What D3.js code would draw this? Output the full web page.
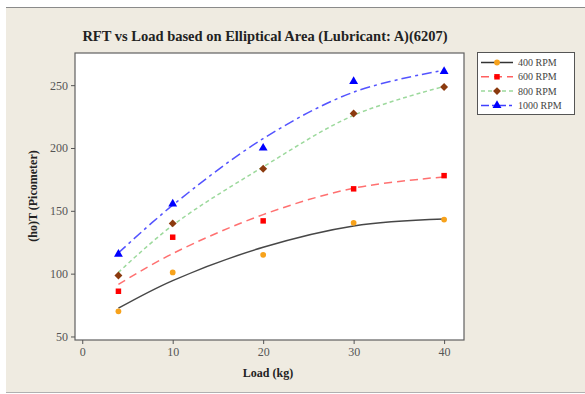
<!DOCTYPE html>
<html><head><meta charset="utf-8">
<script src="https://cdn.jsdelivr.net/npm/d3@7"></script>
<style>
html,body{margin:0;padding:0;background:#fff;}
svg{display:block;}
</style></head>
<body>
<svg id="chart" width="585" height="394"></svg>
<script>
const loads = [4, 10, 20, 30, 40];
const seriesNames = ["400 RPM", "600 RPM", "800 RPM", "1000 RPM"];
const rpm400 = [70, 101, 115, 140.5, 143];
const rpm600 = [86, 129, 142, 167.5, 178];
const rpm800 = [98.5, 140, 183.5, 227.5, 248.5];
const rpm1000 = [115.5, 155.5, 200, 253, 261];
// fitted trend lines at the same loads
const fit400 = [72.5, 94.5, 121, 138, 143.5];
const fit600 = [91.5, 116, 147, 168, 177];
const fit800 = [101, 138.5, 185, 226, 249];
const fit1000 = [116.5, 154.5, 207.5, 244.5, 262];
const xTicks = [0, 10, 20, 30, 40];
const yTicks = [50, 100, 150, 200, 250];

const svg = d3.select("#chart");
const W = 585, H = 394;
svg.append("rect").attr("x",0).attr("y",0).attr("width",W).attr("height",H).attr("fill","#ffffff");
svg.append("rect").attr("x",6).attr("y",8).attr("width",W-6).attr("height",384).attr("fill","#EFEBE1");
svg.append("line").attr("x1",6).attr("x2",W).attr("y1",7.5).attr("y2",7.5).attr("stroke","#8a8a8a").attr("stroke-width",1);
svg.append("line").attr("x1",6).attr("x2",W).attr("y1",392.5).attr("y2",392.5).attr("stroke","#b0b0b0").attr("stroke-width",1);

const pL = 75, pR = 464, pT = 53, pB = 340;
const x = d3.scaleLinear().domain([-0.8, 42.2]).range([pL, pR]);
const y = d3.scaleLinear().domain([47.2, 275.6]).range([pB, pT]);

svg.append("rect").attr("x",pL).attr("y",pT).attr("width",pR-pL).attr("height",pB-pT)
  .attr("fill","#ffffff").attr("stroke","#606060").attr("stroke-width",1.2);

const font = "'Liberation Serif', 'DejaVu Serif', serif";

// axes
const xAxis = svg.append("g").attr("transform",`translate(0,${pB})`)
  .call(d3.axisBottom(x).tickValues(xTicks).tickSize(4).tickPadding(3));
const yAxis = svg.append("g").attr("transform",`translate(${pL},0)`)
  .call(d3.axisLeft(y).tickValues(yTicks).tickSize(4).tickPadding(3));
[xAxis, yAxis].forEach(g => {
  g.select(".domain").remove();
  g.selectAll(".tick line").attr("stroke","#555");
  g.selectAll(".tick text").attr("fill","#555").style("font-family",font).style("font-size","12px");
});

svg.append("text").attr("x",265).attr("y",41).attr("text-anchor","middle")
  .style("font-family",font).style("font-weight","bold").style("font-size","14.5px").attr("fill","#222")
  .text("RFT vs Load based on Elliptical Area (Lubricant: A)(6207)");
svg.append("text").attr("x",268).attr("y",377).attr("text-anchor","middle")
  .style("font-family",font).style("font-weight","bold").style("font-size","12px").attr("fill","#222")
  .text("Load (kg)");
svg.append("text").attr("transform","translate(37,196) rotate(-90)").attr("text-anchor","middle")
  .style("font-family",font).style("font-weight","bold").style("font-size","12px").attr("fill","#222")
  .text("(ho)T (Picometer)");

const series = [
  {name: seriesNames[0], pts: rpm400, fit: fit400, line: "#333333", dash: null, mark: "#F7A21B", sym: d3.symbolCircle, size: 26, op: 0.9},
  {name: seriesNames[1], pts: rpm600, fit: fit600, line: "#FF6060", dash: "8,5", mark: "#FF0000", sym: d3.symbolSquare, size: 30, op: 0.9},
  {name: seriesNames[2], pts: rpm800, fit: fit800, line: "#9CD99C", dash: "4,3", mark: "#8B3A0E", sym: d3.symbolDiamond2, size: 40, op: 1},
  {name: seriesNames[3], pts: rpm1000, fit: fit1000, line: "#4040FF", dash: "10,4,3,4", mark: "#0000FF", sym: d3.symbolTriangle, size: 34, op: 0.9}
];

const lineGen = d3.line().x(d => x(d[0])).y(d => y(d[1])).curve(d3.curveCatmullRom);
series.forEach(s => {
  svg.append("path").datum(loads.map((l,i)=>[l, s.fit[i]])).attr("d", lineGen)
    .attr("fill","none").attr("stroke", s.line).attr("stroke-width",1.5).attr("opacity", s.op)
    .attr("stroke-dasharray", s.dash);
});
series.forEach(s => {
  svg.append("g").selectAll("path").data(loads.map((l,i)=>[l, s.pts[i]])).join("path")
    .attr("transform", d => `translate(${x(d[0])},${y(d[1])})`)
    .attr("d", d3.symbol().type(s.sym).size(s.size)).attr("fill", s.mark);
});

// legend
const lg = svg.append("g");
lg.append("rect").attr("x",477.5).attr("y",52.5).attr("width",97).attr("height",62)
  .attr("fill","#ffffff").attr("stroke","#555").attr("stroke-width",1);
series.forEach((s,i) => {
  const yy = 62.5 + i*14.3;
  lg.append("line").attr("x1",481).attr("x2",513).attr("y1",yy).attr("y2",yy)
    .attr("stroke", s.line).attr("stroke-width",1.5).attr("stroke-dasharray", s.dash ? (i===3 ? "8,3,3,3" : s.dash) : null);
  lg.append("path").attr("transform",`translate(497,${yy})`).attr("d", d3.symbol().type(s.sym).size(s.size)).attr("fill", s.mark);
  lg.append("text").attr("x",518).attr("y",yy+3.5).style("font-family",font).style("font-size","10px")
    .attr("fill","#444").text(s.name);
});
</script>
</body></html>
